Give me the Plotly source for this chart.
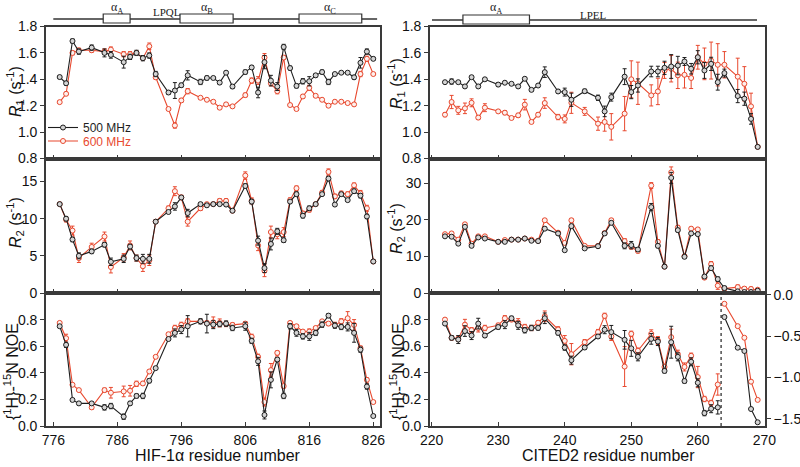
import plotly.graph_objects as go

# ---------------- HIF-1alpha data ----------------
hif_res = [777, 778, 779, 780, 782, 784, 785, 787, 788, 789, 790, 791, 792, 794, 795, 796, 797,
           799, 800, 801, 802, 803, 804, 806, 807, 808, 809, 810, 811, 812, 813, 814, 815, 816,
           817, 818, 819, 820, 821, 822, 823, 824, 825, 826]
hif_r1_500 = [1.417, 1.37, 1.69, 1.61, 1.64, 1.60, 1.585, 1.53, 1.57, 1.60, 1.56, 1.58, 1.44, 1.30,
              1.315, 1.355, 1.43, 1.38, 1.41, 1.41, 1.375, 1.45, 1.345, 1.455, 1.49, 1.30, 1.53,
              1.39, 1.345, 1.645, 1.485, 1.35, 1.385, 1.385, 1.43, 1.455, 1.38, 1.44, 1.45, 1.45,
              1.415, 1.525, 1.61, 1.555]
hif_r1_500_err = [.012, .015, .015, .02, .02, .03, .025, .045, .02, .02, .02, .02, .02, .015, .06,
                  .015, .035, .02, .015, .01, .012, .01, .015, .015, .015, .04, .05, .04, .03, .02,
                  .015, .015, .02, .035, .012, .015, .02, .01, .01, .01, .015, .04, .02, .012]
hif_r1_600 = [1.227, 1.29, 1.60, 1.62, 1.62, 1.61, 1.625, 1.59, 1.59, 1.60, 1.56, 1.65, 1.415, 1.175,
              1.05, 1.24, 1.31, 1.26, 1.245, 1.23, 1.185, 1.21, 1.195, 1.28, 1.39, 1.39, 1.565, 1.37,
              1.31, 1.565, 1.205, 1.175, 1.27, 1.335, 1.275, 1.245, 1.20, 1.23, 1.23, 1.22, 1.21,
              1.44, 1.555, 1.44]
hif_r1_600_err = [.01, .012, .015, .015, .015, .02, .02, .02, .02, .015, .015, .025, .015, .01, .02,
                  .015, .02, .01, .01, .01, .01, .01, .01, .015, .02, .03, .03, .02, .02, .015, .01,
                  .01, .015, .02, .01, .01, .01, .01, .01, .01, .01, .02, .02, .01]
hif_r2_500 = [11.96, 10.0, 7.2, 5.0, 5.6, 6.5, 4.2, 4.6, 6.25, 4.7, 4.6, 4.6, 9.6, 10.9, 11.65, 12.86,
              10.76, 11.96, 11.8, 11.96, 11.96, 11.9, 11.07, 14.4, 12.3, 7.05, 3.35, 6.6, 8.3, 7.1,
              12.3, 13.3, 10.4, 11.4, 11.96, 13.3, 15.4, 11.9, 13.3, 12.5, 13.7, 13.1, 10.3, 4.24]
hif_r2_500_err = [.2, .3, .3, .4, .3, .3, .5, .5, .3, .4, .6, .6, .2, .2, .5, .2, .5, .2, .2, .2, .2,
                  .2, .2, .3, .3, .6, .6, .8, .4, .3, .2, .3, .3, .3, .2, .2, .3, .2, .2, .2, .3, .3,
                  .3, .2]
hif_r2_600 = [11.96, 9.87, 8.4, 4.7, 6.2, 7.6, 3.5, 4.8, 6.4, 4.7, 3.6, 4.4, 9.6, 11.4, 13.7, 12.86,
              9.6, 11.4, 11.96, 11.96, 12.4, 12.4, 11.07, 15.8, 12.4, 6.4, 3.0, 8.2, 7.9, 8.2, 12.5,
              14.1, 10.7, 11.2, 11.96, 13.5, 16.3, 13.0, 13.4, 13.3, 14.5, 13.4, 11.4, 4.24]
hif_r2_600_err = [.2, .3, .6, .6, .5, .6, .8, .5, .6, .4, .7, .7, .2, .3, .6, .3, .6, .3, .2, .2, .3,
                  .3, .2, .5, .4, .7, .8, .8, .6, .6, .3, .3, .3, .3, .2, .3, .4, .3, .3, .3, .3, .4,
                  .4, .2]
hif_noe_500 = [0.75, 0.61, 0.196, 0.17, 0.17, 0.14, 0.15, 0.07, 0.17, 0.226, 0.226, 0.34, 0.435,
               0.654, 0.70, 0.725, 0.75, 0.787, 0.77, 0.762, 0.767, 0.77, 0.737, 0.75, 0.64, 0.486,
               0.083, 0.347, 0.50, 0.226, 0.75, 0.70, 0.674, 0.674, 0.70, 0.762, 0.83, 0.755,
               0.745, 0.745, 0.70, 0.574, 0.297, 0.075]
hif_noe_500_err = [.01, .02, .01, .01, .01, .02, .02, .02, .015, .015, .02, .015, .01, .01, .03, .03,
                   .08, .02, .07, .03, .02, .02, .02, .03, .02, .03, .03, .06, .015, .02, .02, .025,
                   .02, .03, .02, .02, .015, .02, .02, .03, .07, .02, .02, .01]
hif_noe_600 = [0.775, 0.66, 0.31, 0.27, 0.14, 0.27, 0.25, 0.26, 0.265, 0.317, 0.32, 0.41, 0.52,
               0.69, 0.737, 0.76, 0.787, 0.787, 0.775, 0.78, 0.775, 0.767, 0.76, 0.77, 0.67, 0.52,
               0.18, 0.42, 0.55, 0.30, 0.775, 0.75, 0.71, 0.71, 0.737, 0.787, 0.77, 0.76, 0.787,
               0.81, 0.76, 0.586, 0.347, 0.18]
hif_noe_600_err = [.01, .03, .01, .01, .015, .015, .04, .04, .04, .02, .015, .01, .01, .01, .02, .02,
                   .02, .01, .015, .04, .03, .02, .015, .015, .02, .02, .03, .05, .015, .015, .01,
                   .01, .01, .02, .01, .01, .015, .02, .02, .05, .04, .015, .015, .01]

# ---------------- CITED2 data ----------------
cit_res = [222, 223, 224, 225, 226, 227, 228, 230, 231, 232, 233, 234, 235, 236, 237, 239, 240, 241,
           243, 245, 246, 247, 249, 250, 251, 253, 254, 255, 256, 257, 258, 259, 260, 261, 262, 263,
           264, 266, 267, 268, 269]
cit_r1_500 = [1.378, 1.383, 1.378, 1.346, 1.416, 1.346, 1.40, 1.36, 1.374, 1.366, 1.346, 1.404, 1.32,
              1.353, 1.454, 1.308, 1.303, 1.245, 1.31, 1.26, 1.157, 1.265, 1.42, 1.303, 1.353,
              1.459, 1.459, 1.487, 1.497, 1.504, 1.535, 1.48, 1.567, 1.467, 1.517, 1.378, 1.447,
              1.273, 1.253, 1.10, 0.888]
cit_r1_500_err = [.01, .02, .01, .01, .01, .01, .01, .015, .01, .01, .01, .01, .01, .01, .04, .015,
                  .03, .05, .015, .02, .04, .03, .06, .05, .05, .04, .04, .05, .09, .07, .03, .04,
                  .05, .06, .05, .06, .03, .05, .05, .04, .01]
cit_r1_600 = [1.132, 1.228, 1.165, 1.18, 1.222, 1.11, 1.185, 1.157, 1.147, 1.107, 1.127, 1.208, 1.077,
              1.132, 1.22, 1.114, 1.10, 1.222, 1.157, 1.064, 1.077, 1.04, 1.14, 1.40, 1.37, 1.278,
              1.308, 1.467, 1.48, 1.43, 1.434, 1.41, 1.567, 1.517, 1.542, 1.51, 1.51, 1.42, 1.366,
              1.195, 0.888]
cit_r1_600_err = [.015, .05, .03, .04, .03, .015, .03, .01, .015, .01, .015, .04, .01, .015, .04, .02,
                  .03, .08, .03, .05, .07, .1, .13, .14, .16, .08, .1, .06, .1, .1, .1, .08, .09,
                  .12, .14, .16, .1, .14, .13, .1, .01]
cit_r2_500 = [15.5, 15.4, 13.5, 18.1, 12.9, 15.2, 14.9, 14.0, 14.0, 14.6, 14.6, 14.9, 14.3, 14.2, 17.6,
              16.3, 11.7, 18.3, 12.2, 12.8, 16.3, 19.2, 12.9, 13.1, 11.9, 23.5, 12.9, 7.2, 31.5,
              17.2, 9.9, 16.3, 16.1, 4.5, 6.8, 3.8, 1.35, 0.45, 0.27, 0.27, 0.63]
cit_r2_500_err = [.3, .3, .3, .3, .3, .3, .3, .3, .3, .3, .3, .3, .3, .3, .4, .4, .3, .5, .3, .3, .4,
                  .4, .8, 1.0, .5, 1.0, .5, .4, 1.5, .5, .4, .3, .3, .4, .6, .6, .5, .3, .3, .3, .3]
cit_r2_600 = [16.1, 16.3, 14.6, 18.8, 13.5, 15.5, 15.5, 14.0, 14.5, 14.6, 14.6, 14.9, 14.6, 14.3, 19.9,
              16.5, 13.7, 19.9, 12.9, 12.9, 16.4, 19.9, 14.2, 12.6, 11.5, 29.4, 14.0, 7.2, 33.0,
              17.9, 10.1, 17.6, 17.4, 4.2, 7.9, 2.0, 1.2, 1.6, 1.2, 1.1, 0.9]
cit_r2_600_err = [.3, .3, .3, .4, .3, .3, .3, .3, .3, .3, .3, .3, .3, .3, .4, .4, .4, .5, .3, .3, .4,
                  .5, .7, .5, .5, .8, .6, .5, 1.5, .6, .4, .4, .4, .5, .7, 1.0, .5, .6, .5, .5, .3]

cit_noe_res = [222, 223, 224, 225, 226, 227, 228, 230, 231, 232, 233, 234, 235, 236, 237, 239, 240,
               241, 243, 245, 246, 247, 249, 250, 251, 253, 254, 255, 256, 257, 258, 259, 260, 261,
               262, 263]
cit_noe_500 = [0.77, 0.663, 0.65, 0.714, 0.68, 0.77, 0.68, 0.744, 0.762, 0.81, 0.757, 0.72, 0.737,
               0.737, 0.81, 0.70, 0.59, 0.495, 0.59, 0.673, 0.724, 0.706, 0.648, 0.584, 0.52, 0.655,
               0.635, 0.414, 0.63, 0.52, 0.338, 0.483, 0.325, 0.097, 0.13, 0.14]
cit_noe_500_err = [.01, .015, .03, .04, .03, .04, .015, .015, .03, .015, .03, .02, .02, .015, .04,
                   .015, .02, .03, .015, .015, .03, .05, .07, .06, .03, .04, .03, .015, .12, .03,
                   .015, .03, .03, .02, .03, .05]
cit_noe_600 = [0.80, 0.663, 0.655, 0.762, 0.72, 0.737, 0.737, 0.757, 0.81, 0.80, 0.777, 0.744, 0.737,
               0.777, 0.825, 0.726, 0.64, 0.54, 0.63, 0.706, 0.828, 0.673, 0.447, 0.693, 0.566,
               0.693, 0.643, 0.444, 0.668, 0.54, 0.444, 0.528, 0.368, 0.203, 0.173, 0.312]
cit_noe_600_err = [.01, .015, .02, .04, .02, .03, .02, .015, .02, .015, .03, .02, .02, .015, .04, .02,
                   .04, .08, .02, .02, .02, .03, .15, .02, .02, .03, .03, .02, .06, .03, .03, .02,
                   .08, .02, .02, .08]
# C-terminal residues plotted on the right-hand NOE axis
cit_tail_res = [264, 266, 267, 268, 269]
cit_tail_500 = [-0.27, -0.64, -0.68, -1.38, -1.54]
cit_tail_600 = [-0.11, -0.38, -0.52, -1.05, -1.27]
cit_tail_err = [0.01, 0.01, 0.01, 0.01, 0.01]
cit_break = 263.5

# secondary-structure topology
hif_topo_span = [776.0, 826.6]
hif_helices = [["α<sub>A</sub>", 783.8, 788.0], ["α<sub>B</sub>", 795.8, 804.1],
               ["α<sub>C</sub>", 814.4, 824.2]]
hif_motif = ["LPQL", 793.7]
cit_topo_span = [220.05, 268.9]
cit_helices = [["α<sub>A</sub>", 224.7, 234.7]]
cit_motif = ["LPEL", 244.3]

hif_ticks = [776, 786, 796, 806, 816, 826]
cit_ticks = [220, 230, 240, 250, 260, 270]

# ---------------- styling ----------------
W, H = 800, 467
BLACK = "#1e1e1e"
RED = "#e8492f"
AX = "#3a3a3a"
FONT = "Liberation Sans, Arial, sans-serif"


def px(x):
    return x / W


def py(y):
    return 1 - y / H


fig = go.Figure()


def add_pair(xa, ya, xs, y5, e5, y6, e6, legend=False):
    fig.add_trace(go.Scatter(
        x=xs, y=y6, xaxis=xa, yaxis=ya, mode="lines+markers", name="600 MHz",
        line=dict(color=RED, width=1.1),
        marker=dict(symbol="circle", size=5, color="#fdf0ed", line=dict(color=RED, width=1)),
        error_y=dict(type="data", array=e6, color=RED, thickness=1, width=2),
        showlegend=legend, legend="legend2"))
    fig.add_trace(go.Scatter(
        x=xs, y=y5, xaxis=xa, yaxis=ya, mode="lines+markers", name="500 MHz",
        line=dict(color=BLACK, width=1.1),
        marker=dict(symbol="circle", size=5, color="#d4d4d4", line=dict(color=BLACK, width=1)),
        error_y=dict(type="data", array=e5, color=BLACK, thickness=1, width=2),
        showlegend=legend, legend="legend"))


add_pair("x", "y", hif_res, hif_r1_500, hif_r1_500_err, hif_r1_600, hif_r1_600_err, legend=True)
add_pair("x2", "y2", hif_res, hif_r2_500, hif_r2_500_err, hif_r2_600, hif_r2_600_err)
add_pair("x3", "y3", hif_res, hif_noe_500, hif_noe_500_err, hif_noe_600, hif_noe_600_err)
add_pair("x4", "y4", cit_res, cit_r1_500, cit_r1_500_err, cit_r1_600, cit_r1_600_err)
add_pair("x5", "y5", cit_res, cit_r2_500, cit_r2_500_err, cit_r2_600, cit_r2_600_err)
add_pair("x6", "y6", cit_noe_res, cit_noe_500, cit_noe_500_err, cit_noe_600, cit_noe_600_err)
add_pair("x6", "y7", cit_tail_res, cit_tail_500, cit_tail_err, cit_tail_600, cit_tail_err)

LX = [px(46), px(380)]
RX = [px(430), px(765)]
ROW1 = [py(158.5), py(26.5)]
ROW2 = [py(293), py(158.5)]
ROW3 = [py(426), py(293)]

tickfont = dict(family=FONT, size=14, color="#111")


def xaxis(domain, rng, ticks, anchor, labels):
    return dict(domain=domain, range=rng, anchor=anchor, tickvals=ticks, ticks="inside",
                ticklen=4, tickcolor=AX, showline=True, linecolor=AX, linewidth=1.6, mirror=True,
                showgrid=False, zeroline=False, showticklabels=labels, tickfont=tickfont,
                automargin=False)


def yaxis(domain, rng, ticks, anchor, fmt):
    return dict(domain=domain, range=rng, anchor=anchor, tickvals=ticks, tickformat=fmt,
                ticks="outside", ticklen=4, tickcolor=AX, showline=True, linecolor=AX,
                linewidth=1.6, mirror=True, showgrid=False, zeroline=False, tickfont=tickfont,
                automargin=False)


r1_ticks = [0.8, 1.0, 1.2, 1.4, 1.6, 1.8]
noe_ticks = [0.0, 0.2, 0.4, 0.6, 0.8]

layout = dict(
    width=W, height=H, margin=dict(l=0, r=0, t=0, b=0, autoexpand=False),
    paper_bgcolor="white", plot_bgcolor="white",
    font=dict(family=FONT, size=14, color="#111"),
    xaxis=xaxis(LX, [774.86, 827.05], hif_ticks, "y", False),
    xaxis2=xaxis(LX, [774.86, 827.05], hif_ticks, "y2", False),
    xaxis3=xaxis(LX, [774.86, 827.05], hif_ticks, "y3", True),
    xaxis4=xaxis(RX, [219.75, 270.1], cit_ticks, "y4", False),
    xaxis5=xaxis(RX, [219.75, 270.1], cit_ticks, "y5", False),
    xaxis6=xaxis(RX, [219.75, 270.1], cit_ticks, "y6", True),
    yaxis=yaxis(ROW1, [0.8, 1.8], r1_ticks, "x", ".1f"),
    yaxis2=yaxis(ROW2, [0, 18.1], [0, 5, 10, 15], "x2", "d"),
    yaxis3=yaxis(ROW3, [0, 1.0], noe_ticks, "x3", ".1f"),
    yaxis4=yaxis(ROW1, [0.8, 1.8], r1_ticks, "x4", ".1f"),
    yaxis5=yaxis(ROW2, [0, 36.8], [0, 10, 20, 30], "x5", "d"),
    yaxis6=yaxis(ROW3, [0, 1.0], noe_ticks, "x6", ".1f"),
    yaxis7=dict(domain=ROW3, range=[-1.585, 0.02], anchor="x6", overlaying="y6", side="right",
                tickvals=[0, -0.5, -1.0, -1.5], tickformat=".1f", ticks="outside", ticklen=4,
                tickcolor=AX, showline=True, linecolor=AX, linewidth=1.6, showgrid=False,
                zeroline=False, tickfont=tickfont, automargin=False),
    legend=dict(x=px(43), y=py(127.5), xanchor="left", yanchor="middle",
                bgcolor="rgba(0,0,0,0)", font=dict(family=FONT, size=12, color=BLACK),
                itemwidth=30),
    legend2=dict(x=px(43), y=py(141), xanchor="left", yanchor="middle",
                 bgcolor="rgba(0,0,0,0)", font=dict(family=FONT, size=12, color=RED),
                 itemwidth=30),
)
fig.update_layout(**layout)

# axis titles as annotations
ann = []
ytitle_font = dict(family=FONT, size=16, color="#111")
r1_title = "<i>R</i><sub>1</sub> (s<sup>-1</sup>)"
r2_title = "<i>R</i><sub>2</sub> (s<sup>-1</sup>)"
noe_title = "{<sup>1</sup>H}-<sup>15</sup>N NOE"
for x, y, t in [(15, 92, r1_title), (15, 223, r2_title), (11, 372, noe_title),
                (396, 84, r1_title), (396, 229, r2_title), (397, 372, noe_title)]:
    ann.append(dict(x=px(x), y=py(y), xref="paper", yref="paper", text=t, textangle=-90,
                    showarrow=False, xanchor="center", yanchor="middle", font=ytitle_font))
ann.append(dict(x=px(218), y=py(455), xref="paper", yref="paper", text="HIF-1α residue number",
                showarrow=False, xanchor="center", yanchor="middle",
                font=dict(family=FONT, size=16, color="#111")))
ann.append(dict(x=px(608), y=py(455), xref="paper", yref="paper", text="CITED2 residue number",
                showarrow=False, xanchor="center", yanchor="middle",
                font=dict(family=FONT, size=16, color="#111")))

shapes = []
topo_font = dict(family="Liberation Serif, Times New Roman, serif", size=11, color="#222")
helix_font = dict(family="Liberation Serif, Times New Roman, serif", size=12, color="#222")
for xref, span, helices, motif, ly, by0, by1, my in [
        ("x", hif_topo_span, hif_helices, hif_motif, 19, 14, 23, 12.5),
        ("x4", cit_topo_span, cit_helices, cit_motif, 20, 15, 24, 14.5)]:
    shapes.append(dict(type="line", xref=xref, yref="paper", x0=span[0], x1=span[1],
                       y0=py(ly), y1=py(ly), line=dict(color="#333", width=1.5)))
    for lab, a, b in helices:
        shapes.append(dict(type="rect", xref=xref, yref="paper", x0=a, x1=b, y0=py(by1),
                           y1=py(by0), fillcolor="white", line=dict(color="#333", width=1.2)))
        ann.append(dict(x=(a + b) / 2, y=py(8), xref=xref, yref="paper", text=lab,
                        showarrow=False, xanchor="center", yanchor="middle", font=helix_font))
    ann.append(dict(x=motif[1], y=py(my), xref=xref, yref="paper", text=motif[0],
                    showarrow=False, xanchor="center", yanchor="middle", font=topo_font))

shapes.append(dict(type="line", xref="x6", yref="y6 domain", x0=cit_break, x1=cit_break,
                   y0=0, y1=1, line=dict(color="#222", width=1.2, dash="dot")))

fig.update_layout(annotations=ann, shapes=shapes)
fig.write_html("out.html", config={"displayModeBar": False},
               post_script="document.body.style.margin='0';document.body.style.padding='0';")
